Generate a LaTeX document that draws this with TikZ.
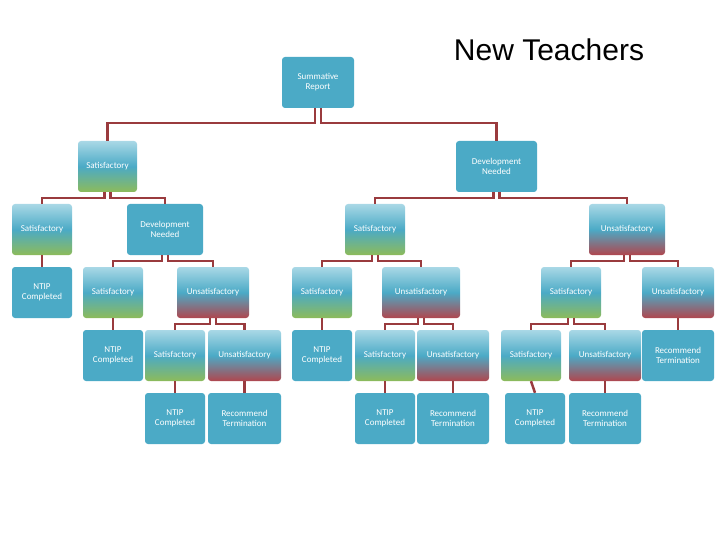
\documentclass[tikz,border=0pt]{standalone}
\usepackage{fontspec}
\setmainfont{Carlito}
\newfontfamily\titlefont{Liberation Sans}
\definecolor{tb}{HTML}{4BAAC6}
\definecolor{lb}{HTML}{A9D8E6}
\definecolor{gg}{HTML}{8DBB5A}
\definecolor{rr}{HTML}{B0464E}
\definecolor{ln}{HTML}{9A3B3E}
\tikzset{
 bx/.style={rounded corners=3pt,text=white,font=\fontsize{9}{10}\selectfont,align=center,inner sep=0pt},
 solid box/.style={bx,fill=tb},
 sat box/.style={bx,top color=lb,bottom color=gg,middle color=tb},
 uns box/.style={bx,top color=lb,bottom color=rr,middle color=tb},
 link/.style={draw=ln,line width=2.5pt}
}
\newcommand{\bxn}[7]{%
 \pgfmathsetmacro{\cx}{(#2+#4)/2}\pgfmathsetmacro{\cy}{(#3+#5)/2}%
 \pgfmathsetmacro{\ww}{#4-#2}\pgfmathsetmacro{\hh}{#5-#3}%
 \node[#6,minimum width=\ww pt,minimum height=\hh pt] (#1) at (\cx,\cy) {#7};}
\newcommand{\two}[4]{%
 \draw[link] ([xshift=-3pt]#1.south) -- ([xshift=-3pt]#1.south |- 0,#4) -| (#2.north);
 \draw[link] ([xshift=3pt]#1.south) -- ([xshift=3pt]#1.south |- 0,#4) -| (#3.north);}
\newcommand{\one}[2]{\draw[link] (#1.south) -- (#2.north);}
\begin{document}
\begin{tikzpicture}[x=1pt,y=-1pt]
\useasboundingbox (0,0) rectangle (720,540);
\node[font=\titlefont\fontsize{30}{32}\selectfont] (title) at (549,50) {New Teachers};
\bxn{S}{282}{57}{354}{108}{solid box}{Summative\\Report}
\bxn{A}{78}{141}{137}{192}{sat box}{Satisfactory}
\bxn{B}{456}{141}{537}{192}{solid box}{Development\\Needed}
\bxn{A1}{12}{204}{72}{255}{sat box}{Satisfactory}
\bxn{A2}{127}{204}{203}{255}{solid box}{Development\\Needed}
\bxn{B1}{345}{204}{405}{255}{sat box}{Satisfactory}
\bxn{B2}{589}{204}{665}{255}{uns box}{Unsatisfactory}
\bxn{C1}{12}{267}{72}{318}{solid box}{NTIP\\Completed}
\bxn{C2}{83}{267}{143}{318}{sat box}{Satisfactory}
\bxn{C3}{177}{267}{249}{318}{uns box}{Unsatisfactory}
\bxn{C4}{292}{267}{352}{318}{sat box}{Satisfactory}
\bxn{C5}{382}{267}{460}{318}{uns box}{Unsatisfactory}
\bxn{C6}{541}{267}{601}{318}{sat box}{Satisfactory}
\bxn{C7}{642}{267}{714}{318}{uns box}{Unsatisfactory}
\bxn{D1}{83}{330}{143}{381}{solid box}{NTIP\\Completed}
\bxn{D2}{145}{330}{205}{381}{sat box}{Satisfactory}
\bxn{D3}{208}{330}{281}{381}{uns box}{Unsatisfactory}
\bxn{D4}{292}{330}{352}{381}{solid box}{NTIP\\Completed}
\bxn{D5}{355}{330}{415}{381}{sat box}{Satisfactory}
\bxn{D6}{417}{330}{489}{381}{uns box}{Unsatisfactory}
\bxn{D7}{501}{330}{561}{381}{sat box}{Satisfactory}
\bxn{D8}{569}{330}{641}{381}{uns box}{Unsatisfactory}
\bxn{D9}{642}{330}{714}{381}{solid box}{Recommend\\Termination}
\bxn{E1}{145}{393}{205}{444}{solid box}{NTIP\\Completed}
\bxn{E2}{208}{393}{281}{444}{solid box}{Recommend\\Termination}
\bxn{E3}{355}{393}{415}{444}{solid box}{NTIP\\Completed}
\bxn{E4}{417}{393}{489}{444}{solid box}{Recommend\\Termination}
\bxn{E5}{505}{393}{565}{444}{solid box}{NTIP\\Completed}
\bxn{E6}{569}{393}{641}{444}{solid box}{Recommend\\Termination}
\two{S}{A}{B}{123}
\two{A}{A1}{A2}{198}
\two{B}{B1}{B2}{198}
\one{A1}{C1}
\two{A2}{C2}{C3}{261}
\two{B1}{C4}{C5}{261}
\two{B2}{C6}{C7}{261}
\one{C2}{D1}
\two{C3}{D2}{D3}{324}
\one{C4}{D4}
\two{C5}{D5}{D6}{324}
\two{C6}{D7}{D8}{324}
\one{C7}{D9}
\one{D2}{E1}
\one{D3}{E2}
\one{D5}{E3}
\one{D6}{E4}
\one{D7}{E5}
\one{D8}{E6}
\end{tikzpicture}
\end{document}
